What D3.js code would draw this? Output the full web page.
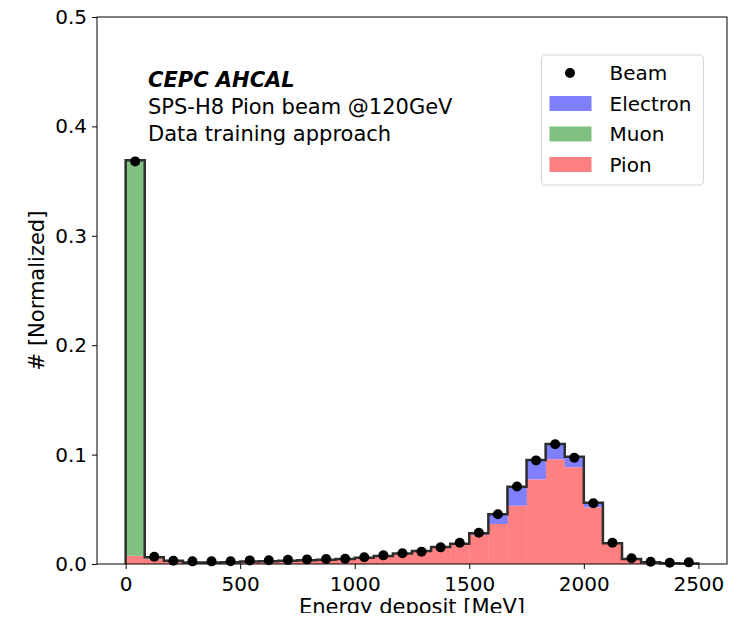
<!DOCTYPE html>
<html>
<head>
<meta charset="utf-8">
<script src="https://cdn.jsdelivr.net/npm/d3@7"></script>
<style>
  body { margin: 0; background: #fff; }
  svg { display: block; font-family: "DejaVu Sans", sans-serif; }
</style>
</head>
<body>
<div id="chart"></div>
<script>
// bin setup: 30 bins from 0 to 2500 MeV
var nBins = 30;
var xMin = 0, xMax = 2500;

// stacked components per bin (normalized)
var pion = [0.0075, 0.0045, 0.0025, 0.0012, 0.0013, 0.0015, 0.0021, 0.0025, 0.0029, 0.0034,
            0.0037, 0.0044, 0.0056, 0.0070, 0.0092, 0.0114, 0.0150, 0.0180, 0.0265, 0.0366,
            0.0533, 0.0774, 0.0957, 0.0884, 0.0518, 0.0186, 0.0043, 0.0014, 0.0008, 0.0004];
var electron = [0, 0, 0, 0.0001, 0.0001, 0.0001, 0.0001, 0.0001, 0.0001, 0.0001,
                0.0001, 0.0001, 0.0002, 0.0002, 0.0003, 0.0004, 0.0005, 0.0005, 0.0017, 0.0089,
                0.0174, 0.0176, 0.0140, 0.0096, 0.0042, 0.0004, 0.0002, 0.0001, 0, 0];
var muon = [0.3615, 0.0017, 0.0005, 0.0001, 0, 0, 0, 0, 0, 0,
            0, 0, 0, 0, 0, 0, 0, 0, 0, 0,
            0, 0, 0, 0, 0, 0, 0, 0, 0, 0];
// beam data points per bin
var beam = [0.368, 0.0067, 0.0030, 0.0024, 0.0024, 0.0025, 0.0033, 0.0035, 0.0038, 0.0042,
            0.0045, 0.0048, 0.0061, 0.0079, 0.0098, 0.0113, 0.0152, 0.0195, 0.0286, 0.0455,
            0.0708, 0.0947, 0.1094, 0.0972, 0.0555, 0.0195, 0.0052, 0.0020, 0.0012, 0.0015];

var xTicks = [0, 500, 1000, 1500, 2000, 2500];
var yTicks = [0, 0.1, 0.2, 0.3, 0.4, 0.5];

var svgWidth = 752, svgHeight = 613;
var margin = {top: 17, right: 25, bottom: 49, left: 97};
var width = svgWidth - margin.left - margin.right;
var height = svgHeight - margin.top - margin.bottom;

var svg = d3.select("#chart").append("svg")
    .attr("width", svgWidth)
    .attr("height", svgHeight);

var chartGroup = svg.append("g")
    .attr("transform", `translate(${margin.left},${margin.top})`);

// matplotlib style 5% padding on x
var pad = (xMax - xMin) * 0.05;
var xScale = d3.scaleLinear().domain([xMin - pad, xMax + pad]).range([0, width]);
var yScale = d3.scaleLinear().domain([0, 0.5]).range([height, 0]);

var binW = (xMax - xMin) / nBins;
var rows = d3.range(nBins).map(function(i) {
    return {lo: xMin + i * binW, hi: xMin + (i + 1) * binW,
            pion: pion[i], electron: electron[i], muon: muon[i], beam: beam[i]};
});

var colors = {pion: "#ff8080", electron: "#8080ff", muon: "#80c080"};
var stack = d3.stack().keys(["pion", "electron", "muon"]);
var layers = stack(rows);

chartGroup.selectAll("g.layer")
    .data(layers)
    .enter()
    .append("g")
    .attr("fill", d => colors[d.key])
    .selectAll("rect")
    .data(d => d)
    .enter()
    .append("rect")
    .attr("x", d => xScale(d.data.lo))
    .attr("width", d => xScale(d.data.hi) - xScale(d.data.lo) + 0.3)
    .attr("y", d => yScale(d[1]))
    .attr("height", d => Math.max(0, yScale(d[0]) - yScale(d[1])));

// step outline of the total
var pts = [[xMin, 0]];
rows.forEach(function(r) {
    var tot = r.pion + r.electron + r.muon;
    pts.push([r.lo, tot]);
    pts.push([r.hi, tot]);
});
pts.push([xMax, 0]);
var line = d3.line().x(d => xScale(d[0])).y(d => yScale(d[1]));
chartGroup.append("path")
    .attr("d", line(pts))
    .attr("fill", "none")
    .attr("stroke", "#2e2e2e")
    .attr("stroke-width", 2.5)
    .attr("stroke-linejoin", "miter");

// beam points
chartGroup.selectAll("circle")
    .data(rows)
    .enter()
    .append("circle")
    .attr("cx", d => xScale((d.lo + d.hi) / 2))
    .attr("cy", d => yScale(d.beam))
    .attr("r", 5)
    .attr("fill", "#000");

// axes
var bottomAxis = d3.axisBottom(xScale).tickValues(xTicks).tickSize(5).tickPadding(4)
    .tickFormat(d3.format("d"));
var leftAxis = d3.axisLeft(yScale).tickValues(yTicks).tickSize(5).tickPadding(5)
    .tickFormat(d3.format(".1f"));

var xAxis = chartGroup.append("g")
    .attr("transform", `translate(0,${height})`)
    .call(bottomAxis);
var yAxis = chartGroup.append("g").call(leftAxis);
[xAxis, yAxis].forEach(function(a) {
    a.select(".domain").remove();
    a.selectAll("text").attr("font-size", "20px").attr("fill", "#000")
        .attr("font-family", "DejaVu Sans");
    a.selectAll("line").attr("stroke", "#000");
});
xAxis.selectAll("text").attr("dy", "0.92em");

// frame
chartGroup.append("rect")
    .attr("x", 0).attr("y", 0)
    .attr("width", width).attr("height", height)
    .attr("fill", "none")
    .attr("stroke", "#000")
    .attr("stroke-width", 1);

// axis labels
svg.append("text")
    .attr("x", margin.left + xScale(1250))
    .attr("y", 614)
    .attr("text-anchor", "middle")
    .attr("font-size", "21px")
    .text("Energy deposit [MeV]");

svg.append("text")
    .attr("transform", `translate(44,${margin.top + height / 2}) rotate(-90)`)
    .attr("text-anchor", "middle")
    .attr("font-size", "21px")
    .text("# [Normalized]");

// annotation
var note = svg.append("g").attr("transform", "translate(148,0)");
note.append("text").attr("y", 87).attr("font-size", "21px")
    .attr("font-weight", "bold").attr("font-style", "italic")
    .text("CEPC AHCAL");
note.append("text").attr("y", 114).attr("font-size", "21px")
    .text("SPS-H8 Pion beam @120GeV");
note.append("text").attr("y", 141).attr("font-size", "21px")
    .text("Data training approach");

// legend
var legend = svg.append("g").attr("transform", "translate(541.5,55)");
legend.append("rect")
    .attr("width", 162).attr("height", 130)
    .attr("rx", 4)
    .attr("fill", "#fff").attr("fill-opacity", 0.8)
    .attr("stroke", "#d6d6d6");
var items = [
    {label: "Beam", type: "dot"},
    {label: "Electron", type: "electron"},
    {label: "Muon", type: "muon"},
    {label: "Pion", type: "pion"}
];
items.forEach(function(it, i) {
    var yc = 18 + i * 30.5;
    if (it.type === "dot") {
        legend.append("circle").attr("cx", 28.5).attr("cy", yc).attr("r", 5).attr("fill", "#000");
    } else {
        legend.append("rect").attr("x", 8).attr("y", yc - 7.5)
            .attr("width", 42).attr("height", 15).attr("fill", colors[it.type]);
    }
    legend.append("text").attr("x", 68).attr("y", yc + 7)
        .attr("font-size", "20px").text(it.label);
});
</script>
</body>
</html>
